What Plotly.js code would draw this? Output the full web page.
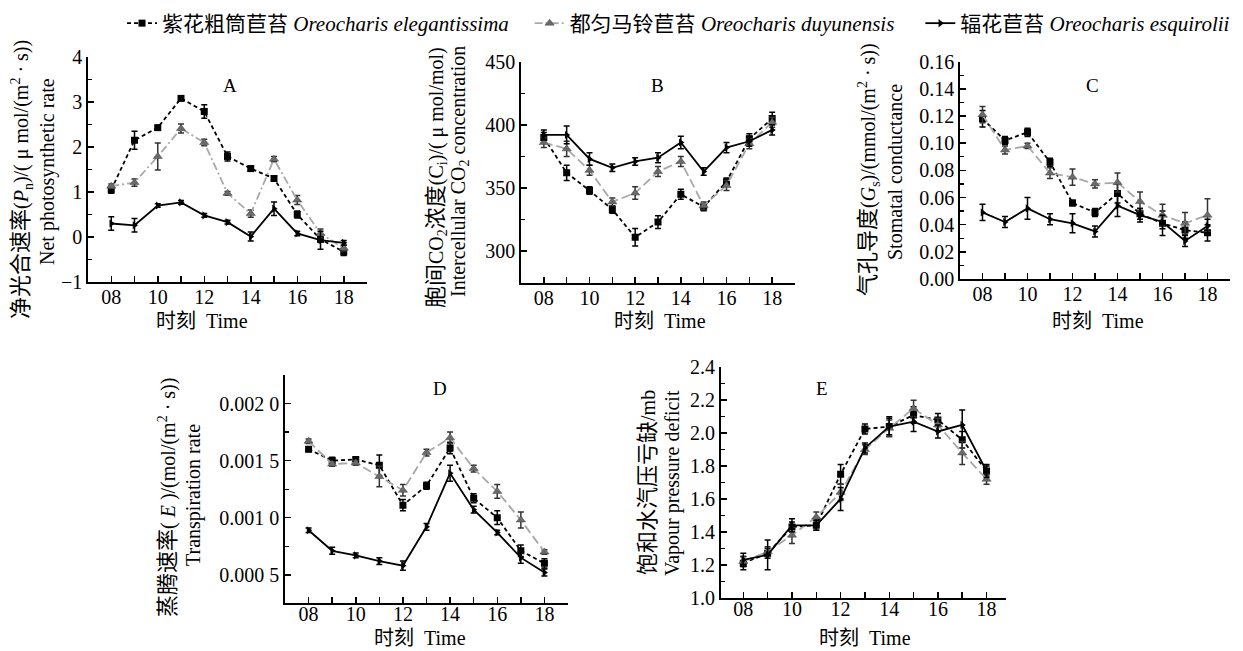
<!DOCTYPE html>
<html><head><meta charset="utf-8">
<script src="https://cdn.plot.ly/plotly-3.0.1.min.js"></script>
<style>html,body{margin:0;padding:0;background:#fff}#chart{width:1243px;height:651px}</style>
</head><body><div id="chart"></div>
<script>
const hours = [8,9,10,11,12,13,14,15,16,17,18];
const hourTickVals = [8,10,12,14,16,18];
const hourTickText = ["08","10","12","14","16","18"];
const NB = "\u00a0";
const seriesNames = ["紫花粗筒苣苔 <i>Oreocharis elegantissima</i>" + NB.repeat(3), "都匀马铃苣苔 <i>Oreocharis duyunensis</i>" + NB.repeat(4), "辐花苣苔 <i>Oreocharis esquirolii</i>"];

// A: net photosynthetic rate
const A_ele = [1.05,2.15,2.43,3.08,2.79,1.79,1.52,1.30,0.50,-0.05,-0.33];
const A_ele_err = [0.08,0.2,0.05,0.04,0.15,0.1,0.06,0.05,0.08,0.06,0.08];
const A_duy = [1.13,1.21,1.79,2.41,2.10,0.97,0.52,1.73,0.82,0.08,-0.25];
const A_duy_err = [0.05,0.08,0.3,0.1,0.07,0.04,0.08,0.06,0.1,0.1,0.06];
const A_esq = [0.30,0.26,0.70,0.77,0.48,0.33,0.01,0.63,0.08,-0.07,-0.13];
const A_esq_err = [0.15,0.15,0.04,0.04,0.04,0.04,0.1,0.15,0.05,0.2,0.05];

// B: intercellular CO2
const B_ele = [390,362,348,333,311,323,345,335,355,389,405];
const B_ele_err = [4,6,3,3,7,5,4,3,3,4,5];
const B_duy = [386,381,364,339,346,363,371,336,352,385,402];
const B_duy_err = [4,6,4,3,5,4,4,3,4,4,4];
const B_esq = [392,392,373,366,371,374,386,363,382,387,396];
const B_esq_err = [4,7,5,3,3,4,5,3,4,4,4];

// C: stomatal conductance
const C_ele = [0.118,0.102,0.108,0.086,0.056,0.049,0.063,0.048,0.041,0.036,0.034];
const C_ele_err = [0.006,0.003,0.003,0.003,0.002,0.003,0.007,0.004,0.009,0.006,0.006];
const C_duy = [0.121,0.095,0.098,0.078,0.075,0.070,0.071,0.057,0.047,0.041,0.047];
const C_duy_err = [0.006,0.003,0.002,0.004,0.006,0.003,0.007,0.007,0.008,0.008,0.012];
const C_esq = [0.049,0.042,0.052,0.044,0.041,0.035,0.054,0.047,0.042,0.028,0.039];
const C_esq_err = [0.006,0.004,0.008,0.004,0.007,0.004,0.008,0.005,0.005,0.004,0.005];

// D: transpiration rate
const D_ele = [0.00160,0.00150,0.00151,0.00146,0.00111,0.00128,0.00161,0.00117,0.00100,0.00071,0.00060];
const D_ele_err = [0.00002,0.00003,0.00002,0.00009,0.00005,0.00003,0.00005,0.00004,0.00006,0.00005,0.00004];
const D_duy = [0.00167,0.00147,0.00148,0.00136,0.00124,0.00157,0.00170,0.00143,0.00123,0.00098,0.00070];
const D_duy_err = [0.00002,0.00002,0.00002,0.00009,0.00005,0.00003,0.00005,0.00003,0.00006,0.00007,0.00002];
const D_esq = [0.00089,0.00071,0.00067,0.00062,0.00058,0.00092,0.00139,0.00107,0.00087,0.00065,0.00052];
const D_esq_err = [0.00002,0.00003,0.00002,0.00003,0.00004,0.00003,0.00007,0.00003,0.00002,0.00005,0.00003];
const D_tickVals = [0.0005,0.0010,0.0015,0.0020];
const D_tickText = ["0.000 5","0.001 0","0.001 5","0.002 0"];

// E: vapour pressure deficit
const E_ele = [1.21,1.27,1.43,1.44,1.75,2.025,2.04,2.11,2.08,1.96,1.77];
const E_ele_err = [0.04,0.03,0.03,0.03,0.06,0.03,0.06,0.05,0.04,0.05,0.03];
const E_duy = [1.22,1.28,1.38,1.49,1.64,1.90,2.03,2.15,2.05,1.88,1.72];
const E_duy_err = [0.03,0.03,0.05,0.03,0.05,0.03,0.05,0.05,0.04,0.07,0.03];
const E_esq = [1.23,1.26,1.44,1.44,1.60,1.91,2.04,2.07,2.01,2.05,1.77];
const E_esq_err = [0.04,0.09,0.04,0.03,0.07,0.03,0.05,0.06,0.04,0.09,0.04];

const W = 1243, H = 651;
const px = v => v / W, py = v => 1 - v / H;
const FONT = "Liberation Serif, Times New Roman, Noto Sans CJK SC, serif";
const GRAY = "#a8a8a8";
const zh = (s, sz) => '<span style="font-size:' + (sz || 22) + 'px">' + s + '</span>';

const styles = [
  {line:{color:"#000", width:1.8, dash:"4px,3px"}, marker:{symbol:"square", size:7, color:"#000"}, errc:"#000"},
  {line:{color:GRAY, width:1.8, dash:"9px,4px"}, marker:{symbol:"triangle-up", size:8, color:"#6a6a6a", line:{color:"#444",width:0.5}}, errc:"#333"},
  {line:{color:"#000", width:1.8}, marker:{symbol:"triangle-right", size:7, color:"#000"}, errc:"#000"}
];

const traces = [];
function addPanel(idx, sets, extraDash) {
  const xa = idx === 1 ? "x" : "x" + idx;
  const ya = idx === 1 ? "y" : "y" + idx;
  sets.forEach((s, k) => {
    const st = styles[k];
    const line = Object.assign({}, st.line);
    if (k === 1 && extraDash) line.dash = extraDash;
    traces.push({
      x: hours, y: s[0], type: "scatter", mode: "lines+markers",
      name: seriesNames[k], legendgroup: "g" + k, showlegend: idx === 1,
      xaxis: xa, yaxis: ya, line: line, marker: st.marker,
      error_y: {type: "data", array: s[1], visible: true, color: st.errc, thickness: 1.5, width: 3}
    });
  });
}
addPanel(1, [[A_ele,A_ele_err],[A_duy,A_duy_err],[A_esq,A_esq_err]], "8px,3px,2px,3px");
addPanel(2, [[B_ele,B_ele_err],[B_duy,B_duy_err],[B_esq,B_esq_err]]);
addPanel(3, [[C_ele,C_ele_err],[C_duy,C_duy_err],[C_esq,C_esq_err]]);
addPanel(4, [[D_ele,D_ele_err],[D_duy,D_duy_err],[D_esq,D_esq_err]]);
addPanel(5, [[E_ele,E_ele_err],[E_duy,E_duy_err],[E_esq,E_esq_err]]);

function xAxis(x0, x1, yanchor, range, standoff) {
  return {
    domain: [px(x0), px(x1)], anchor: yanchor, range: range || [7, 19],
    tickmode: "array", tickvals: hourTickVals, ticktext: hourTickText,
    ticks: "inside", ticklen: 6, tickwidth: 1.5, tickcolor: "#000",
    minor: {tickmode: "array", tickvals: [9,11,13,15,17], ticks: "inside", ticklen: 6, tickwidth: 1.5, tickcolor: "#000"},
    showline: true, linecolor: "#000", linewidth: 1.8, showgrid: false, zeroline: false,
    ticklabelstandoff: standoff === undefined ? -4 : standoff,
    tickfont: {family: FONT, size: 20, color: "#000"}, fixedrange: true
  };
}
function yAxis(y0, y1, xanchor, range, dtick, mdtick, extra) {
  return Object.assign({
    domain: [py(y1), py(y0)], anchor: xanchor, range: range,
    tickmode: "linear", tick0: range[0], dtick: dtick,
    ticks: "inside", ticklen: 6, tickwidth: 1.5, tickcolor: "#000",
    minor: {dtick: mdtick, ticks: "inside", ticklen: 4, tickwidth: 1.2, tickcolor: "#000"},
    showline: true, linecolor: "#000", linewidth: 1.8, showgrid: false, zeroline: false,
    tickfont: {family: FONT, size: 20, color: "#000"}, fixedrange: true
  }, extra || {});
}

const ann = [];
function txt(x, y, text, size, angle) {
  ann.push({xref: "paper", yref: "paper", x: px(x), y: py(y), text: text, showarrow: false,
    textangle: angle || 0, xanchor: "center", yanchor: "middle",
    font: {family: FONT, size: size, color: "#000"}});
}
// panel letters
txt(230, 85, "A", 19); txt(657, 85, "B", 19); txt(1092, 85, "C", 19);
txt(440, 388, "D", 19); txt(822, 388, "E", 19);
// x titles
const xt = zh("时刻", 20) + "  Time";
txt(202, 321, xt, 20); txt(660, 321, xt, 20); txt(1098, 321, xt, 20);
txt(420, 638, xt, 20); txt(865, 638, xt, 20);
// y titles
txt(22, 180, zh("净光合速率") + "(<i>P</i><sub>n</sub>)/( μ mol/(m<sup>2</sup> · s))", 20, -90);
txt(47, 172, "Net photosynthetic rate", 20, -90);
txt(436, 178, zh("胞间") + "CO<sub>2</sub>" + zh("浓度") + "(C<sub>i</sub>)/( μ mol/mol)", 20, -90);
txt(459, 172, "Intercellular CO<sub>2</sub> concentration", 20, -90);
txt(869, 170, zh("气孔导度") + "(<i>G</i><sub>s</sub>)/(mmol/(m<sup>2</sup> · s))", 20, -90);
txt(895, 172, "Stomatal conductance", 20, -90);
txt(167, 497, zh("蒸腾速率") + "( <i>E</i> )/(mol/(m<sup>2</sup> · s))", 20, -90);
txt(193, 495, "Transpiration rate", 20, -90);
txt(647, 483, zh("饱和水汽压亏缺") + "/mb", 20, -90);
txt(672, 483, "Vapour pressure deficit", 20, -90);

const layout = {
  width: W, height: H, autosize: false,
  margin: {l: 0, r: 0, t: 0, b: 0},
  paper_bgcolor: "#fff", plot_bgcolor: "#fff",
  font: {family: FONT, color: "#000"},
  showlegend: true,
  legend: {orientation: "h", x: px(122), y: py(3), xanchor: "left", yanchor: "top",
    font: {family: FONT, size: 21, color: "#000"}, bgcolor: "rgba(0,0,0,0)", itemwidth: 30},
  xaxis: xAxis(88, 367, "y"),
  yaxis: yAxis(57, 282, "x", [-1, 4], 1, 0.5),
  xaxis2: xAxis(521, 795, "y2"),
  yaxis2: yAxis(61.7, 282.7, "x2", [275, 450], 50, 25, {tick0: 300}),
  xaxis3: xAxis(960, 1230, "y3"),
  yaxis3: yAxis(61.7, 279, "x3", [0, 0.16], 0.02, 0.01, {tickformat: ".2f"}),
  xaxis4: xAxis(285, 568, "y4", [7, 19], -8),
  yaxis4: yAxis(375, 603.3, "x4", [0.00025, 0.00225], 0.0005, 0.00025, {tickmode: "array", tickvals: D_tickVals, ticktext: D_tickText, minor: {tickmode: "array", tickvals: [0.00025,0.00075,0.00125,0.00175,0.00225], ticks: "inside", ticklen: 4, tickwidth: 1.2, tickcolor: "#000"}}),
  xaxis5: xAxis(720.7, 1006, "y5", [7.07, 18.8], -8),
  yaxis5: yAxis(367.3, 597.7, "x5", [1.0, 2.4], 0.2, 0.1, {tickformat: ".1f"}),
  annotations: ann
};
Plotly.newPlot("chart", traces, layout, {staticPlot: true, displayModeBar: false});
</script></body></html>
